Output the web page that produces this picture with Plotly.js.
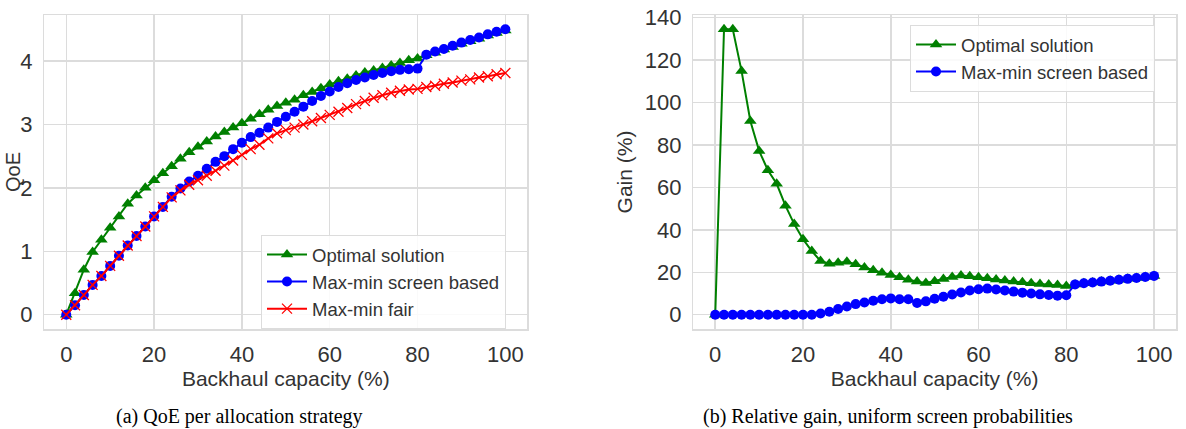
<!DOCTYPE html>
<html>
<head>
<meta charset="utf-8">
<script src="https://cdn.plot.ly/plotly-3.0.1.min.js"></script>
<style>
  html, body { margin: 0; padding: 0; background: #ffffff; }
  #chart { width: 1186px; height: 429px; }
</style>
</head>
<body>
<div id="chart"></div>
<script>
// Backhaul capacity (%) — x values shared by both panels
const capacity = [0, 2, 4, 6, 8, 10, 12, 14, 16, 18, 20, 22, 24, 26, 28, 30, 32, 34, 36, 38, 40,
  42, 44, 46, 48, 50, 52, 54, 56, 58, 60, 62, 64, 66, 68, 70, 72, 74, 76, 78, 80,
  82, 84, 86, 88, 90, 92, 94, 96, 98, 100];

// (a) QoE per allocation strategy
const qoeOptimal = [0, 0.34, 0.71, 0.99, 1.18, 1.37, 1.55, 1.75, 1.88, 2.0, 2.12, 2.23, 2.34, 2.46, 2.56,
  2.65, 2.73, 2.81, 2.88, 2.95, 3.02, 3.09, 3.16, 3.23, 3.29, 3.34, 3.39, 3.46, 3.51, 3.57, 3.63,
  3.68, 3.72, 3.77, 3.82, 3.85, 3.89, 3.93, 3.97, 4.01, 4.04, 4.09, 4.13, 4.18, 4.22, 4.27, 4.31,
  4.35, 4.40, 4.44, 4.48];
const qoeScreen = [0, 0.15, 0.31, 0.47, 0.61, 0.77, 0.93, 1.09, 1.24, 1.39, 1.55, 1.70, 1.86, 1.99, 2.10,
  2.19, 2.30, 2.41, 2.50, 2.61, 2.71, 2.80, 2.87, 2.95, 3.04, 3.12, 3.20, 3.28, 3.37, 3.45, 3.52,
  3.59, 3.65, 3.70, 3.74, 3.78, 3.81, 3.84, 3.86, 3.87, 3.88, 4.10, 4.15, 4.19, 4.24, 4.29, 4.33,
  4.37, 4.42, 4.46, 4.50];
const qoeFair = [0, 0.15, 0.31, 0.47, 0.61, 0.77, 0.93, 1.09, 1.24, 1.39, 1.55, 1.70, 1.85, 1.96, 2.05,
  2.12, 2.19, 2.27, 2.35, 2.43, 2.52, 2.61, 2.68, 2.78, 2.86, 2.91, 2.95, 3.00, 3.05, 3.10, 3.15,
  3.20, 3.26, 3.32, 3.37, 3.42, 3.46, 3.50, 3.53, 3.55, 3.56, 3.59, 3.61, 3.64, 3.66, 3.69, 3.71,
  3.74, 3.76, 3.79, 3.81];

// (b) Relative gain (%), uniform screen probabilities
const gainOptimal = [0, 134.5, 134.5, 114.8, 91.3, 77.2, 68.1, 61.7, 51.4, 42.7, 35.6, 30.0, 25.3, 24.0,
  24.5, 25.0, 23.8, 22.3, 21.0, 19.8, 18.7, 17.6, 16.5, 15.6, 15.0, 15.8, 16.8, 17.8, 18.5, 18.1,
  17.7, 17.2, 16.6, 16.1, 15.6, 15.3, 14.8, 14.5, 14.2, 14.0, 13.5, 14.3, 14.8, 15.2, 15.6, 16.0,
  16.5, 16.9, 17.3, 17.8, 18.3];
const gainScreen = [0, 0, 0, 0, 0, 0, 0, 0, 0, 0, 0, 0, 0.6, 1.4, 2.7, 3.9, 5.0, 5.8, 6.6, 7.3, 7.7,
  7.3, 7.3, 5.5, 6.3, 7.5, 8.5, 9.5, 10.5, 11.4, 12.0, 12.3, 11.9, 11.4, 10.9, 10.4, 10.0, 9.6,
  9.3, 9.0, 9.2, 14.3, 14.8, 15.2, 15.6, 16.0, 16.5, 16.9, 17.3, 17.8, 18.3];

const seriesNames = ['Optimal solution', 'Max-min screen based', 'Max-min fair'];
const xTicks = [0, 20, 40, 60, 80, 100];
const qoeTicks = [0, 1, 2, 3, 4];
const gainTicks = [0, 20, 40, 60, 80, 100, 120, 140];
const captions = ['(a) QoE per allocation strategy', '(b) Relative gain, uniform screen probabilities'];

const GREEN = '#008000', BLUE = '#0000ff', RED = '#ff0000';
const GRID = '#dcdcdc';
const TXT = '#333333';
const SANS = 'Liberation Sans, Arial, sans-serif';

function tri(x, y, xa, ya, show, lg) {
  return { x: x, y: y, xaxis: xa, yaxis: ya, type: 'scatter', mode: 'lines+markers',
    name: seriesNames[0], showlegend: show, legend: lg,
    line: { color: GREEN, width: 2 },
    marker: { symbol: 'triangle-up', size: 11, color: GREEN } };
}
function dot(x, y, xa, ya, show, lg) {
  return { x: x, y: y, xaxis: xa, yaxis: ya, type: 'scatter', mode: 'lines+markers',
    name: seriesNames[1], showlegend: show, legend: lg,
    line: { color: BLUE, width: 2 },
    marker: { symbol: 'circle', size: 10, color: BLUE } };
}

const traces = [
  tri(capacity, qoeOptimal, 'x', 'y', true, 'legend'),
  dot(capacity, qoeScreen, 'x', 'y', true, 'legend'),
  { x: capacity, y: qoeFair, xaxis: 'x', yaxis: 'y', type: 'scatter', mode: 'lines+markers',
    name: seriesNames[2], showlegend: true, legend: 'legend',
    line: { color: RED, width: 2 },
    marker: { symbol: 'x-thin-open', size: 10, line: { color: RED, width: 1.3 }, color: RED } },
  tri(capacity, gainOptimal, 'x2', 'y2', true, 'legend2'),
  dot(capacity, gainScreen, 'x2', 'y2', true, 'legend2')
];

function xAxis(dom, anchor) {
  return { domain: dom, anchor: anchor, range: [-5, 105], tickvals: xTicks, ticks: '',
    ticklabelstandoff: 5, automargin: false,
    showgrid: true, gridcolor: GRID, gridwidth: 1.5, zeroline: false,
    showline: true, mirror: true, linecolor: GRID, linewidth: 1.5,
    tickfont: { family: SANS, size: 22, color: TXT },
    title: { text: 'Backhaul capacity (%)', font: { family: SANS, size: 21, color: TXT }, standoff: 2 } };
}
function yAxis(dom, anchor, range, ticks, title, standoff) {
  const ax = { domain: dom, anchor: anchor, range: range, tickvals: ticks, ticks: '',
    ticklabelstandoff: 6, automargin: false,
    showgrid: true, gridcolor: GRID, gridwidth: 1.5, zeroline: false,
    showline: true, mirror: true, linecolor: GRID, linewidth: 1.5,
    tickfont: { family: SANS, size: 22, color: TXT } };
  if (title) ax.title = { text: title, font: { family: SANS, size: 21, color: TXT }, standoff: standoff };
  return ax;
}

const yDom = [1 - 329 / 429, 1 - 15 / 429];
const layout = {
  width: 1186, height: 429,
  margin: { l: 0, r: 0, t: 0, b: 0 },
  paper_bgcolor: '#ffffff', plot_bgcolor: '#ffffff',
  showlegend: true,
  xaxis: xAxis([44.3 / 1186, 527.3 / 1186], 'y'),
  yaxis: yAxis(yDom, 'x', [-0.225, 4.725], qoeTicks, null, 0),
  xaxis2: xAxis([693.3 / 1186, 1176 / 1186], 'y2'),
  yaxis2: yAxis(yDom, 'x2', [-6.725, 141.225], gainTicks, 'Gain (%)', 6),
  legend: { x: 261 / 1186, y: 1 - 235 / 429, xanchor: 'left', yanchor: 'top',
    bgcolor: 'rgba(255,255,255,0.85)', bordercolor: '#dcdcdc', borderwidth: 1,
    font: { family: SANS, size: 18.5, color: TXT }, tracegroupgap: 0, itemwidth: 40 },
  legend2: { x: 910 / 1186, y: 1 - 25 / 429, xanchor: 'left', yanchor: 'top',
    bgcolor: 'rgba(255,255,255,0.85)', bordercolor: '#dcdcdc', borderwidth: 1,
    font: { family: SANS, size: 18.5, color: TXT }, tracegroupgap: 0, itemwidth: 40 },
  annotations: [
    { text: 'QoE', xref: 'paper', yref: 'paper', x: 0, y: 1 - 172 / 429,
      xanchor: 'left', yanchor: 'middle', textangle: -90, showarrow: false,
      font: { family: SANS, size: 20, color: TXT } },
    { text: captions[0], xref: 'paper', yref: 'paper', x: 239 / 1186, y: 1 - 416 / 429,
      xanchor: 'center', yanchor: 'middle', showarrow: false,
      font: { family: 'Liberation Serif, Times New Roman, serif', size: 20, color: '#000000' } },
    { text: captions[1], xref: 'paper', yref: 'paper', x: 888 / 1186, y: 1 - 416 / 429,
      xanchor: 'center', yanchor: 'middle', showarrow: false,
      font: { family: 'Liberation Serif, Times New Roman, serif', size: 20, color: '#000000' } }
  ]
};

Plotly.newPlot('chart', traces, layout, { displayModeBar: false, staticPlot: true });
</script>
</body>
</html>
